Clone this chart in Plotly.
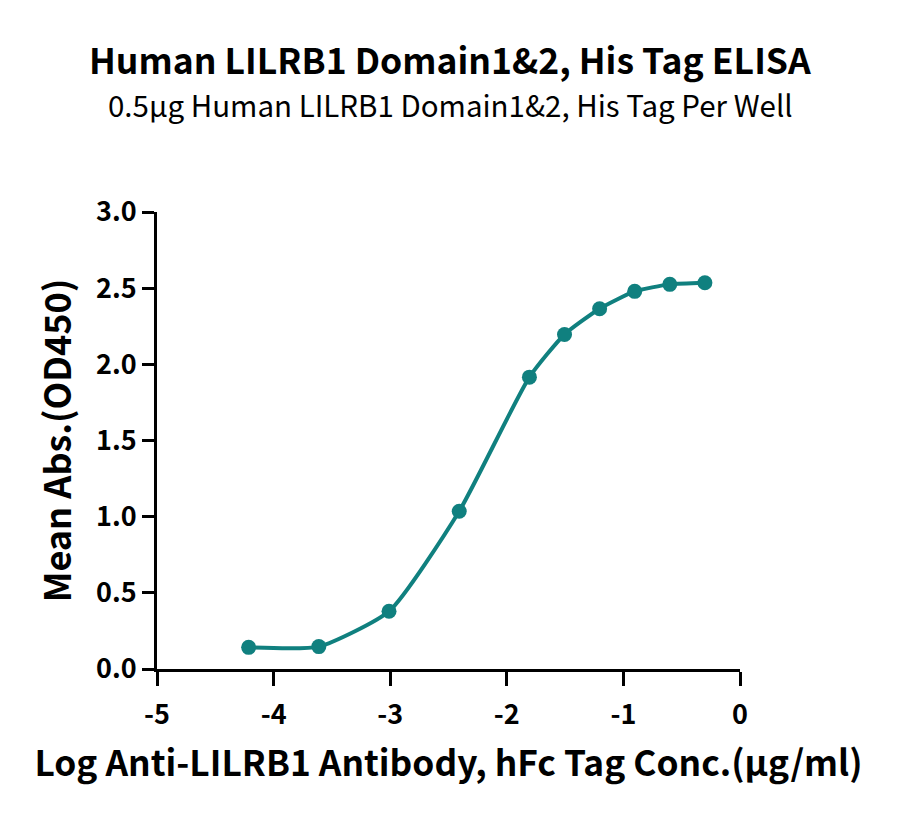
import plotly.graph_objects as go

log_conc = [-4.214, -3.612, -3.010, -2.408, -1.806, -1.505, -1.204, -0.903, -0.602, -0.301]
mean_abs = [0.142, 0.147, 0.379, 1.036, 1.916, 2.196, 2.365, 2.479, 2.525, 2.536]

title = "Human LILRB1 Domain1&2, His Tag ELISA"
subtitle = "0.5μg Human LILRB1 Domain1&2, His Tag Per Well"
x_title = "Log Anti-LILRB1 Antibody, hFc Tag Conc.(μg/ml)"
y_title = "Mean Abs.(OD450)"
x_ticks = [-5, -4, -3, -2, -1, 0]
y_ticks = [0.0, 0.5, 1.0, 1.5, 2.0, 2.5, 3.0]

color = "#10807f"
font = "Noto Sans CJK SC"

# plot area in page pixels (page has an 8px body offset)
L, R, T, B = 157, 740, 212, 669
OFF = 8
W, H = 900, 821
pw, ph = R - L, B - T

fig = go.Figure()
fig.add_trace(go.Scatter(
    x=log_conc, y=mean_abs, mode="lines+markers",
    line=dict(color=color, width=4, shape="spline", smoothing=0.55),
    marker=dict(color=color, size=15),
    showlegend=False,
))

fig.update_layout(
    width=W, height=H,
    margin=dict(l=L - OFF, r=W - (R - OFF), t=T - OFF, b=H - (B - OFF)),
    plot_bgcolor="white", paper_bgcolor="white",
    font=dict(family=font, color="black"),
)
fig.add_annotation(text="<b>" + title + "</b>", xref="paper", yref="paper",
                   x=(450 - L) / pw, y=1 + (T - 58) / ph, showarrow=False,
                   font=dict(size=35.5, family=font), yanchor="middle", xanchor="center")
fig.add_annotation(text=subtitle, xref="paper", yref="paper",
                   x=(450 - L) / pw, y=1 + (T - 104) / ph, showarrow=False,
                   font=dict(size=29.5, family=font), yanchor="middle", xanchor="center")

fig.update_xaxes(
    range=[-5, 0], tickvals=x_ticks, ticktext=[str(v) for v in x_ticks],
    showline=True, linecolor="black", linewidth=3, mirror=False,
    ticks="outside", ticklen=14, tickwidth=3, tickcolor="black",
    ticklabelstandoff=6,
    showgrid=False, zeroline=False,
    tickfont=dict(size=27, family=font, weight="bold"),
    title=dict(text="<b>" + x_title + "</b>", font=dict(size=35.3, family=font), standoff=20),
)
fig.update_yaxes(
    range=[0, 3], tickvals=y_ticks, ticktext=["%.1f" % v for v in y_ticks],
    showline=True, linecolor="black", linewidth=3,
    ticks="outside", ticklen=12, tickwidth=3, tickcolor="black",
    showgrid=False, zeroline=False,
    tickfont=dict(size=27, family=font, weight="bold"),
    title=dict(text="<b>" + y_title + "</b>", font=dict(size=36, family=font), standoff=14),
)

fig.write_html("out.html")
